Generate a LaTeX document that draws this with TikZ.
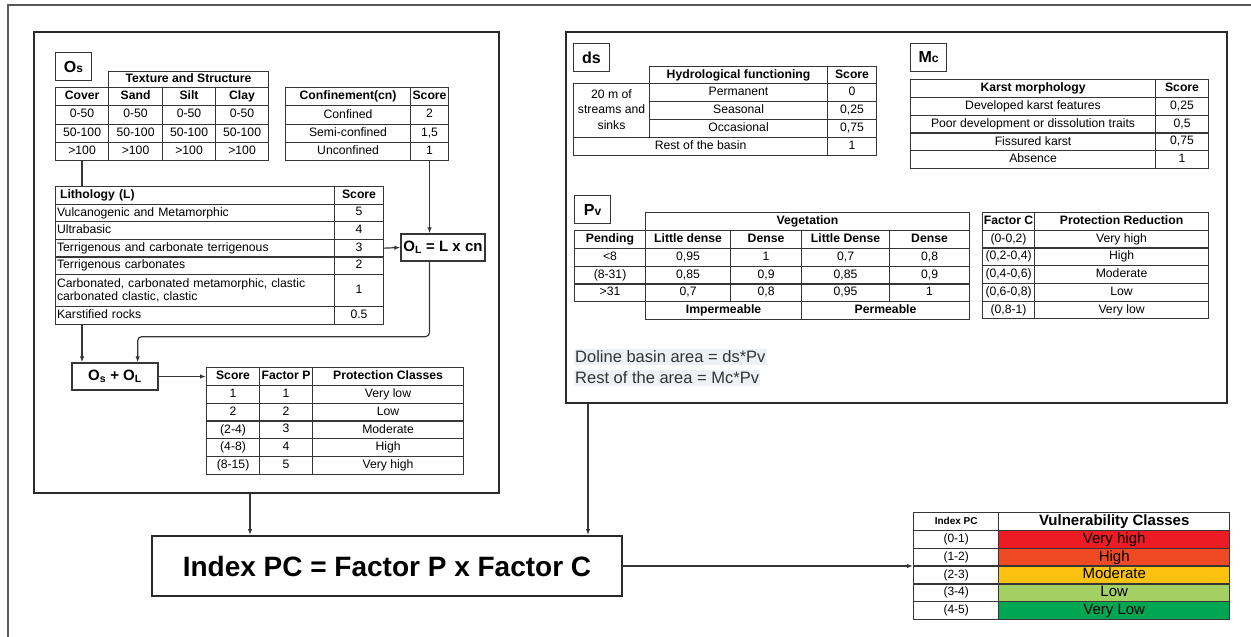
\documentclass[tikz,border=0pt]{standalone}
\usepackage{fontspec}
\setmainfont{Liberation Sans}
\usetikzlibrary{arrows.meta, positioning, calc}

\definecolor{tline}{HTML}{363636}
\definecolor{frame}{HTML}{2A2A2A}
\definecolor{hilite}{HTML}{EDF1F5}
\definecolor{vhigh}{HTML}{ED1C24}
\definecolor{high}{HTML}{EF4A24}
\definecolor{moder}{HTML}{FDC20F}
\definecolor{lowc}{HTML}{A4CF63}
\definecolor{vlow}{HTML}{00A651}

\newcommand{\cellfont}{\fontsize{12.2}{13.2}\selectfont}
\newcommand{\tagfont}{\fontsize{16}{18}\selectfont\bfseries}
\newcommand{\smalltag}[1]{{\fontsize{12}{12}\selectfont #1}}

\begin{document}
\begin{tikzpicture}[
    x=1pt, y=-1pt,
    % Styles
    cell/.style={rectangle, draw=tline, line width=1.1pt, fill=white, anchor=north west, inner sep=0pt, align=center, font=\cellfont, execute at begin node={\vphantom{Ag,}}},
    lcell/.style={cell, align=left, inner xsep=1.5pt, text width=276pt},
    tag/.style={rectangle, draw=tline, line width=1.1pt, anchor=north west, minimum width=36, minimum height=28, inner sep=0pt, font=\tagfont},
    formula/.style={rectangle, draw=tline, line width=1.3pt, fill=white, inner sep=0pt, font=\fontsize{15}{17}\selectfont\bfseries},
    panel/.style={rectangle, draw=frame, line width=2pt, anchor=north west, inner sep=0pt},
    note/.style={fill=hilite, anchor=west, inner xsep=1pt, inner ysep=1.5pt, text=black!80, font=\fontsize{16.5}{18}\selectfont},
    vcell/.style={cell, line width=1.4pt, minimum height=17.8},
    arrow/.style={-{Latex[length=6pt,width=4.5pt]}, line width=1.2pt, draw=tline},
    link/.style={line width=1.2pt, draw=tline},
]
\useasboundingbox (0,0) rectangle (1251,637);

% outer frame (top and left only)
\draw[line width=1.5pt, draw=black!65] (8,637) -- (8,5) -- (1251,5);

% ===== LEFT PANEL: O_s, O_L =====
\node[panel, minimum width=465, minimum height=461] (panelL) at (33,31) {};
\node[tag] (tagOs) at (55,52) {O\smalltag{s}};

% Texture and structure
\node[cell, minimum width=160, minimum height=16] (tex-head) at (108,71) {\textbf{Texture and Structure}};
\foreach \a/\b/\c/\d [count=\i from 0] in {\textbf{Cover}/\textbf{Sand}/\textbf{Silt}/\textbf{Clay}, 0-50/0-50/0-50/0-50, 50-100/50-100/50-100/50-100, >100/>100/>100/>100}{
  \node[cell, minimum width=53, minimum height=18.25] (tex-\i-a) at (55, 87+18.25*\i) {\a};
  \node[cell, minimum width=54, minimum height=18.25] (tex-\i-b) at (108, 87+18.25*\i) {\b};
  \node[cell, minimum width=53, minimum height=18.25] (tex-\i-c) at (162, 87+18.25*\i) {\c};
  \node[cell, minimum width=53, minimum height=18.25] (tex-\i-d) at (215, 87+18.25*\i) {\d};
}

% Confinement
\foreach \a/\b [count=\i from 0] in {\textbf{Confinement(cn)}/\textbf{Score}, Confined/2, Semi-confined/{1,5}, Unconfined/1}{
  \node[cell, minimum width=125, minimum height=18.25] (cn-\i-a) at (285, 87+18.25*\i) {\a};
  \node[cell, minimum width=38, minimum height=18.25] (cn-\i-b) at (410, 87+18.25*\i) {\b};
}

% Lithology
\foreach \a/\b [count=\i from 0] in {\hspace{3pt}\textbf{Lithology (L)}/\textbf{Score}, Vulcanogenic and Metamorphic/5, Ultrabasic/4, Terrigenous and carbonate terrigenous/3, Terrigenous carbonates/2}{
  \node[lcell, minimum height=17.6] (lit-\i-a) at (55, 186+17.6*\i) {\a};
  \node[cell, minimum width=49, minimum height=17.6] (lit-\i-b) at (334, 186+17.6*\i) {\b};
}
\node[lcell, minimum height=32] (lit-5-a) at (55,274) {Carbonated, carbonated metamorphic, clastic\\carbonated clastic, clastic};
\node[cell, minimum width=49, minimum height=32] (lit-5-b) at (334,274) {1};
\node[lcell, minimum height=17.6] (lit-6-a) at (55,306) {Karstified rocks};
\node[cell, minimum width=49, minimum height=17.6] (lit-6-b) at (334,306) {0.5};

\node[formula, minimum width=84, minimum height=27] (olBox) at (443,247.5) {O\textsubscript{L} = L x cn};
\node[formula, minimum width=86, minimum height=27] (osolBox) at (115,376.5) {O\textsubscript{s} + O\textsubscript{L}};

% Protection classes
\foreach \a/\b/\c [count=\i from 0] in {\textbf{Score}/\textbf{Factor P}/\textbf{Protection Classes}, 1/1/Very low, 2/2/Low, (2-4)/3/Moderate, (4-8)/4/High, (8-15)/5/Very high}{
  \node[cell, minimum width=53, minimum height=17.83] (pc-\i-a) at (206, 367+17.83*\i) {\a};
  \node[cell, minimum width=53, minimum height=17.83] (pc-\i-b) at (259, 367+17.83*\i) {\b};
  \node[cell, minimum width=151, minimum height=17.83] (pc-\i-c) at (312, 367+17.83*\i) {\c};
}

% ===== RIGHT PANEL: Factor C =====
\node[panel, minimum width=661, minimum height=371] (panelR) at (565,31) {};
\node[tag] (tagDs) at (573,43) {ds};
\node[tag] (tagMc) at (910,43) {M\smalltag{c}};
\node[tag] (tagPv) at (574,195) {P\smalltag{v}};

% Hydrological functioning
\node[cell, minimum width=178, minimum height=17] (hy-head) at (649,66) {\textbf{Hydrological functioning}};
\node[cell, minimum width=49, minimum height=17] (hy-score) at (827,66) {\textbf{Score}};
\node[cell, minimum width=76, minimum height=54, font=\fontsize{12.2}{15.5}\selectfont] (hy-zone) at (573,83) {20 m of\\streams and\\sinks};
\foreach \a/\b [count=\i from 0] in {Permanent/0, Seasonal/{0,25}, Occasional/{0,75}}{
  \node[cell, minimum width=178, minimum height=18] (hy-\i-a) at (649, 83+18*\i) {\a};
  \node[cell, minimum width=49, minimum height=18] (hy-\i-b) at (827, 83+18*\i) {\b};
}
\node[cell, minimum width=254, minimum height=18] (hy-rest) at (573,137) {Rest of the basin};
\node[cell, minimum width=49, minimum height=18] (hy-rest-s) at (827,137) {1};

% Karst morphology
\foreach \a/\b [count=\i from 0] in {\textbf{Karst morphology}/\textbf{Score}, Developed karst features/{0,25}, Poor development or dissolution traits/{0,5}, Fissured karst/{0,75}, Absence/1}{
  \node[cell, minimum width=245, minimum height=17.8] (ka-\i-a) at (910, 79+17.8*\i) {\a};
  \node[cell, minimum width=53, minimum height=17.8] (ka-\i-b) at (1155, 79+17.8*\i) {\b};
}

% Vegetation
\node[cell, minimum width=324, minimum height=18] (veg-head) at (645,212) {\textbf{Vegetation}};
\foreach \a/\b/\c/\d/\e [count=\i from 0] in {\textbf{Pending}/\textbf{Little dense}/\textbf{Dense}/\textbf{Little Dense}/\textbf{Dense}, <8/{0,95}/1/{0,7}/{0,8}, (8-31)/{0,85}/{0,9}/{0,85}/{0,9}, >31/{0,7}/{0,8}/{0,95}/1}{
  \node[cell, minimum width=71, minimum height=17.8] (veg-\i-a) at (574, 230+17.8*\i) {\a};
  \node[cell, minimum width=85, minimum height=17.8] (veg-\i-b) at (645, 230+17.8*\i) {\b};
  \node[cell, minimum width=71, minimum height=17.8] (veg-\i-c) at (730, 230+17.8*\i) {\c};
  \node[cell, minimum width=88, minimum height=17.8] (veg-\i-d) at (801, 230+17.8*\i) {\d};
  \node[cell, minimum width=80, minimum height=17.8] (veg-\i-e) at (889, 230+17.8*\i) {\e};
}
\node[cell, minimum width=156, minimum height=17.8] (veg-imp) at (645,301.2) {\textbf{Impermeable}};
\node[cell, minimum width=168, minimum height=17.8] (veg-perm) at (801,301.2) {\textbf{Permeable}};

% Factor C
\foreach \a/\b [count=\i from 0] in {\textbf{Factor C}/\textbf{Protection Reduction}, {(0-0,2)}/Very high, {(0,2-0,4)}/High, {(0,4-0,6)}/Moderate, {(0,6-0,8)}/Low, {(0,8-1)}/Very low}{
  \node[cell, minimum width=52, minimum height=17.7] (fc-\i-a) at (982, 212+17.7*\i) {\a};
  \node[cell, minimum width=174, minimum height=17.7] (fc-\i-b) at (1034, 212+17.7*\i) {\b};
}

\node[note] (noteDs) at (574,357) {Doline basin area = ds*Pv};
\node[note] (noteMc) at (574,378) {Rest of the area = Mc*Pv};

% ===== INDEX PC =====
\node[rectangle, draw=frame, line width=2pt, fill=white, minimum width=470, minimum height=60, font=\fontsize{28}{30}\selectfont\bfseries] (idxBox) at (387,566) {Index PC = Factor P x Factor C};

% Vulnerability classes
\foreach \a/\b/\c [count=\i from 0] in {{\fontsize{10}{11}\selectfont\textbf{Index PC}}/{\fontsize{15}{16}\selectfont\textbf{Vulnerability Classes}}/white, (0-1)/Very high/vhigh, (1-2)/High/high, (2-3)/Moderate/moder, (3-4)/Low/lowc, (4-5)/Very Low/vlow}{
  \node[vcell, minimum width=85, font=\fontsize{12}{13}\selectfont] (vc-\i-a) at (913, 512+17.8*\i) {\a};
  \node[vcell, minimum width=231, fill=\c, font=\fontsize{15}{16}\selectfont] (vc-\i-b) at (998, 512+17.8*\i) {\b};
}

% ===== ARROWS =====
% O_s side
\draw[link] (tex-3-a.south) -- (tex-3-a.south |- lit-0-a.north);
\draw[arrow] (tex-3-a.south |- lit-6-a.south) -- (tex-3-a.south |- osolBox.north);
\draw[arrow] (cn-3-b.south) -- (cn-3-b.south |- olBox.north);
\draw[arrow] (lit-3-b.east) -- (olBox.west);
\draw[arrow, rounded corners=4pt] (olBox.south -| cn-3-b.south) -- ++(0,75) -| ($(osolBox.north east)+(-21,0)$);
\draw[arrow] (osolBox.east) -- (osolBox.east -| pc-0-a.west);

% panels to index
\coordinate (dropL) at ($(panelL.south west)+(217,0)$);
\coordinate (dropR) at ($(panelR.south west)+(23,0)$);
\draw[arrow] (dropL) -- (dropL |- idxBox.north);
\draw[arrow] (dropR) -- (dropR |- idxBox.north);

% index to classes
\draw[arrow] (idxBox.east) -- (idxBox.east -| vc-2-a.west);

\end{tikzpicture}
\end{document}
